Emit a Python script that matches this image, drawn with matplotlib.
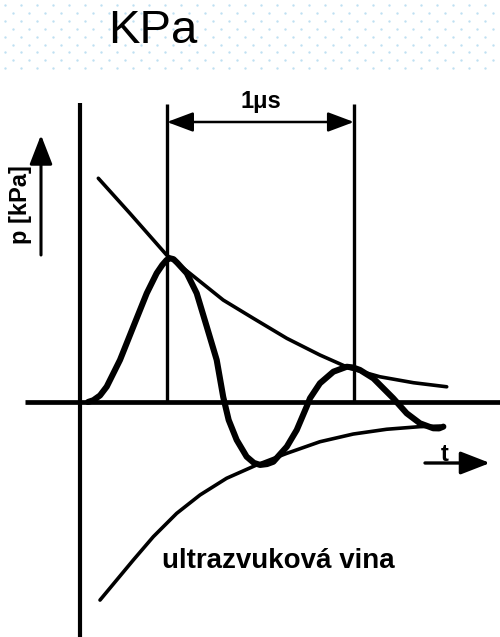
import numpy as np
import matplotlib
matplotlib.use("Agg")
import matplotlib.pyplot as plt

# ---- data (t in microseconds, p in relative pressure units) ----
wave_t = [0.043, 0.071, 0.107, 0.143, 0.214, 0.285, 0.357, 0.410, 0.440, 0.463, 0.481,
          0.500, 0.520, 0.571, 0.624, 0.678, 0.731, 0.766, 0.795, 0.838, 0.891, 0.930,
          0.963, 1.000, 1.034, 1.106, 1.159, 1.212, 1.230, 1.283, 1.355, 1.426, 1.460,
          1.497, 1.569, 1.675, 1.747, 1.818, 1.889, 1.920, 1.943]
wave_p = [0.000, 0.012, 0.045, 0.106, 0.290, 0.519, 0.750, 0.888, 0.945, 0.979, 0.991,
          0.985, 0.960, 0.888, 0.750, 0.519, 0.290, 0.034, -0.124, -0.262, -0.377, -0.420,
          -0.434, -0.428, -0.412, -0.308, -0.193, -0.032, 0.026, 0.129, 0.209, 0.243, 0.238,
          0.221, 0.163, 0.026, -0.078, -0.147, -0.181, -0.182, -0.170]

upper_t = [0.098, 0.267, 0.463, 0.588, 0.766, 0.927, 1.106, 1.283, 1.444, 1.604, 1.783, 1.961]
upper_p = [1.543, 1.301, 1.014, 0.887, 0.703, 0.577, 0.439, 0.324, 0.232, 0.174, 0.133, 0.105]

lower_t = [0.107, 0.196, 0.285, 0.392, 0.517, 0.642, 0.784, 0.945, 1.106, 1.283, 1.461,
           1.640, 1.818, 1.925]
lower_p = [-1.366, -1.228, -1.090, -0.929, -0.768, -0.641, -0.526, -0.434, -0.354, -0.274,
           -0.221, -0.188, -0.170, -0.166]

peak_times = [0.465, 1.465]          # vertical markers, 1 µs apart
title_text = "KPa"
ylabel_text = "p [kPa]"
xlabel_text = "t"
period_text = "1\u03bcs"
wave_text = "ultrazvuková vina"

W, H = 500, 637
fig = plt.figure(figsize=(W / 100, H / 100), dpi=100)
fig.patch.set_facecolor("white")

# header with dotted pattern
hh = 72
axh = fig.add_axes([0, 1 - hh / H, 1, hh / H])
axh.set_xlim(0, W)
axh.set_ylim(hh, 0)
axh.axis("off")
rows = np.arange(5, 70, 7.9)
for i, yy in enumerate(rows):
    xs = np.arange(5 + (8 if i % 2 else 0), W, 16)
    axh.scatter(xs, np.full_like(xs, yy, dtype=float), s=3, color="#bfe0f2", linewidths=0)

# main diagram axes: t=0 at x=80px, 187 px per µs; p=0 at y=402px, 145 px per unit
ax = fig.add_axes([0, 0, 1, 1])
ax.patch.set_alpha(0)
ax.set_xlim(-80 / 187, (W - 80) / 187)
ax.set_ylim((402 - H) / 145, 402 / 145)
ax.axis("off")

k = "black"
fam = ["Liberation Sans", "DejaVu Sans"]
# axes lines
ax.plot([0, 0], [(402 - H) / 145, (402 - 103) / 145], color=k, lw=3.0, solid_capstyle="butt")
ax.plot([(25 - 80) / 187, (W - 80) / 187], [0, 0], color=k, lw=3.4, solid_capstyle="butt")

# vertical markers
for tp in peak_times:
    ax.plot([tp, tp], [0, (402 - 104) / 145], color=k, lw=2.4, solid_capstyle="butt")

# dimension arrow
pd = (402 - 122) / 145
ax.annotate("", xy=(peak_times[0], pd), xytext=(peak_times[1], pd),
            arrowprops=dict(arrowstyle="<|-|>,head_length=0.8,head_width=0.3",
                            lw=1.8, color=k, mutation_scale=20, shrinkA=0, shrinkB=0))
ax.text(sum(peak_times) / 2, (402 - 101) / 145, period_text, ha="center", va="center",
        fontsize=17, fontweight="heavy", family=fam)

# envelopes and wave
ax.plot(upper_t, upper_p, color=k, lw=2.6, solid_capstyle="round", solid_joinstyle="round")
ax.plot(lower_t, lower_p, color=k, lw=2.6, solid_capstyle="round", solid_joinstyle="round")
ax.plot(wave_t, wave_p, color=k, lw=4.4, solid_capstyle="round", solid_joinstyle="round")

# y label with arrow
tx = (41 - 80) / 187
ax.annotate("", xy=(tx, (402 - 135) / 145), xytext=(tx, (402 - 255) / 145),
            arrowprops=dict(arrowstyle="-|>,head_length=0.9,head_width=0.35",
                            lw=2.2, color=k, mutation_scale=20, shrinkA=0, shrinkB=0))
ax.text((21 - 80) / 187, (402 - 205) / 145, ylabel_text, rotation=90, ha="center", va="center",
        fontsize=17, fontweight="bold", family=fam)

# x label with arrow
py = (402 - 463) / 145
ax.annotate("", xy=((490 - 80) / 187, py), xytext=((425 - 80) / 187, py),
            arrowprops=dict(arrowstyle="-|>,head_length=0.9,head_width=0.35",
                            lw=2.4, color=k, mutation_scale=20, shrinkA=0, shrinkB=0))
ax.text((445 - 80) / 187, (402 - 461) / 145, xlabel_text, ha="center", va="baseline",
        fontsize=17, fontweight="bold", family=fam)

# wave label
ax.text((278 - 80) / 187, (402 - 561) / 145, wave_text, ha="center", va="center",
        fontsize=20, fontweight="bold", family=fam)

# title
ax.text((108 - 80) / 187, (402 - 31) / 145, title_text, ha="left", va="center",
        fontsize=34, family=fam)

fig.savefig("out.png", dpi=100, facecolor="white")
